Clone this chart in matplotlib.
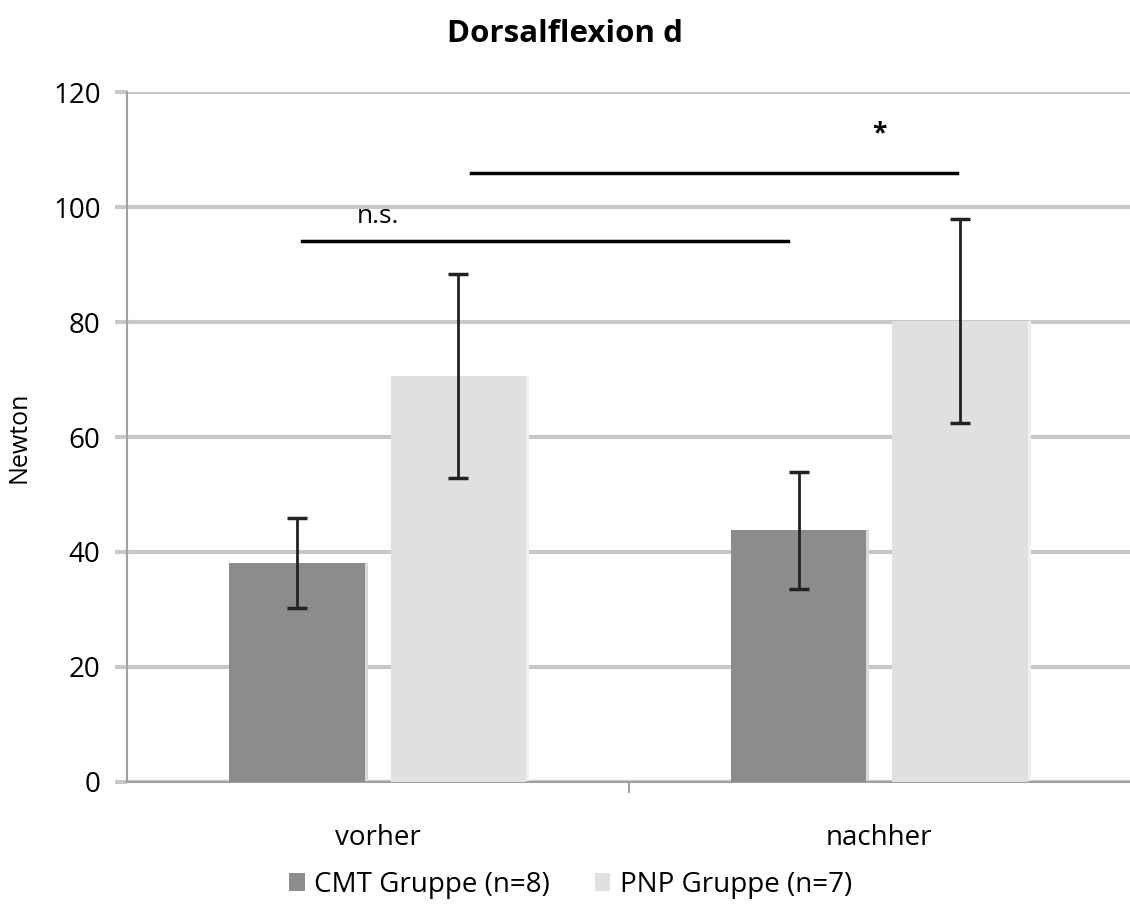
"Dorsalflexion d - CMT vs PNP"
import numpy as np
import matplotlib
matplotlib.use("Agg")
import matplotlib.pyplot as plt

plt.rcParams['font.family'] = ['Open Sans', 'DejaVu Sans']

"data"
categories = ["vorher", "nachher"]
groups = ["CMT Gruppe (n=8)", "PNP Gruppe (n=7)"]
cmt_mean = [38.1, 43.8]
cmt_err = [7.9, 10.2]
pnp_mean = [70.6, 80.2]
pnp_err = [17.7, 17.8]
sig_labels = ["n.s.", "*"]
sig_heights = [94.1, 105.9]

"plot"
fig = plt.figure(figsize=(11.3, 9.13), dpi=100)
ax = fig.add_axes([0.1124, 0.1435, 0.8876, 0.7557])

x = np.arange(len(categories))
w = 0.27
off = 0.161

ax.bar(x - off + 0.006, cmt_mean, w, color="#d9d9d9", zorder=2)
ax.bar(x + off + 0.006, pnp_mean, w, color="#f0f0f0", zorder=2)
ax.bar(x - off, cmt_mean, w, color="#8c8c8c", label=groups[0], zorder=3)
ax.bar(x + off, pnp_mean, w, color="#e0e0e0", label=groups[1], zorder=3)
ax.errorbar(x - off, cmt_mean, yerr=cmt_err, fmt="none", ecolor="#222222",
            elinewidth=2, capsize=7, capthick=2.5, zorder=4)
ax.errorbar(x + off, pnp_mean, yerr=pnp_err, fmt="none", ecolor="#222222",
            elinewidth=2, capsize=7, capthick=2.5, zorder=4)

"significance lines"
ax.plot([-off + 0.01, 1 - off - 0.02], [sig_heights[0]] * 2, color="black", lw=2.5, zorder=5)
ax.text(0, 97.3, sig_labels[0], ha="center", va="baseline", fontsize=19)
ax.plot([off + 0.025, 1 + off - 0.005], [sig_heights[1]] * 2, color="black", lw=2.5, zorder=5)
ax.text(1, 110.3, sig_labels[1], ha="center", va="bottom", fontsize=19, fontweight="bold")

ax.set_xlim(-0.5, 1.5)
ax.set_ylim(0, 120)
ax.set_yticks(np.arange(0, 121, 20))
ax.set_xticks(x)
ax.set_xticklabels(categories, fontsize=20)
ax.set_xticks([0.5], minor=True)
ax.tick_params(axis="x", which="major", length=0, pad=30)
ax.tick_params(axis="x", which="minor", length=8, color="#a0a0a0", width=1.5)
ax.tick_params(axis="y", length=9, color="#c8c8c8", width=3, labelsize=20, pad=10)
ax.grid(axis="y", color="#c8c8c8", lw=3, zorder=0)
for s in ["top", "right"]:
    ax.spines[s].set_visible(False)
ax.spines["left"].set_color("#a0a0a0")
ax.spines["left"].set_linewidth(1.5)
ax.spines["bottom"].set_color("#a0a0a0")
ax.spines["bottom"].set_linewidth(1.5)
ax.set_ylabel("Newton", fontsize=18)
ax.yaxis.set_label_coords(-0.095, 0.5)
ax.set_title("Dorsalflexion d", fontsize=22.5, fontweight="bold", pad=36, x=0.437)

fig.legend(loc="center", bbox_to_anchor=(0.505, 0.031), ncol=2, frameon=False,
           fontsize=20, handlelength=0.55, handleheight=0.6, handletextpad=0.35,
           columnspacing=1.6)

plt.savefig("out.png", dpi=100)
